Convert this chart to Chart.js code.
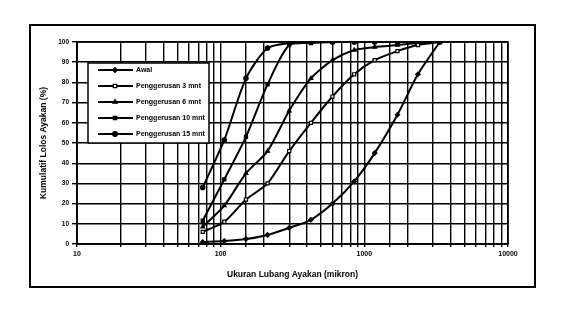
<!DOCTYPE html>
<html>
<head>
<meta charset="utf-8">
<script src="https://cdn.jsdelivr.net/npm/chart.js@4.4.1/dist/chart.umd.min.js"></script>
<style>
  html, body { margin: 0; padding: 0; background: #fff; }
  #wrap { position: relative; width: 563px; height: 309px; }
</style>
</head>
<body>
<div id="wrap"><canvas id="c" width="563" height="309"></canvas></div>
<script>
// ---- data ----
const sieveSizes = [75, 106, 150, 212, 300, 425, 600, 850, 1180, 1700, 2360, 3350];
const seriesLabels = ['Awal', 'Penggerusan 3 mnt', 'Penggerusan 6 mnt', 'Penggerusan 10 mnt', 'Penggerusan 15 mnt'];
const awal  = [1, 1.5, 2.5, 4.5, 8, 12, 20, 31, 45, 64, 84, 100];
const mnt3  = [6, 11, 22, 30, 46, 60, 73, 84, 91, 95.5, 98.5, 100];
const mnt6  = [8.5, 19, 35, 46, 66, 82, 91, 96, 97.5, 98.5, 99.5, 100];
const mnt10 = [11.5, 32, 53, 79, 98.5, 99.5, 100, 100, 100, 100, 100, 100];
const mnt15 = [28, 51.5, 82, 97, 99.5, 100, 100, 100, 100, 100, 100, 100];
const xTickLabels = [10, 100, 1000, 10000];
const xTitle = 'Ukuran Lubang Ayakan (mikron)';
const yTitle = 'Kumulatif Lolos Ayakan (%)';

const seriesValues = [awal, mnt3, mnt6, mnt10, mnt15];
const markerStyles = ['rectRot', 'rect', 'triangle', 'rect', 'circle'];
const markerFills = ['#000', '#fff', '#000', '#000', '#000'];

const FONT = '"Liberation Sans", Arial, sans-serif';

const datasets = seriesValues.map((vals, i) => ({
  label: seriesLabels[i],
  data: sieveSizes.map((s, j) => ({ x: s, y: vals[j] })),
  borderColor: '#000',
  borderWidth: 2,
  backgroundColor: markerFills[i],
  pointStyle: markerStyles[i],
  pointRadius: 2.2,
  pointBorderColor: '#000',
  pointBorderWidth: 1.2,
  pointBackgroundColor: markerFills[i],
  tension: 0.25,
  fill: false
}));

const framePlugin = {
  id: 'frame',
  beforeDraw(chart) {
    const ctx = chart.ctx;
    ctx.save();
    ctx.fillStyle = '#fff';
    ctx.fillRect(0, 0, chart.width, chart.height);
    ctx.restore();
  },
  afterDraw(chart) {
    const ctx = chart.ctx;
    const a = chart.chartArea;
    ctx.save();
    // outer frame
    ctx.strokeStyle = '#000';
    ctx.lineWidth = 2;
    ctx.strokeRect(30, 25, 505, 262);
    // plot border
    ctx.lineWidth = 1.6;
    ctx.strokeRect(a.left, a.top, a.right - a.left, a.bottom - a.top);

    // legend box inside chart area
    const bx = a.left + 11, by = a.top + 21, bw = 121, bh = 80;
    ctx.fillStyle = '#fff';
    ctx.fillRect(bx, by, bw, bh);
    ctx.lineWidth = 1.5;
    ctx.strokeRect(bx, by, bw, bh);
    ctx.font = 'bold 7px ' + FONT;
    ctx.textBaseline = 'middle';
    ctx.textAlign = 'left';
    chart.data.datasets.forEach((ds, i) => {
      const yy = by + 7 + i * 16;
      ctx.strokeStyle = '#000';
      ctx.lineWidth = 2;
      ctx.beginPath();
      ctx.moveTo(bx + 10, yy);
      ctx.lineTo(bx + 45, yy);
      ctx.stroke();
      ctx.fillStyle = ds.pointBackgroundColor;
      ctx.strokeStyle = '#000';
      ctx.lineWidth = 1.2;
      Chart.helpers.drawPoint(ctx, {
        pointStyle: ds.pointStyle, radius: 2.4, borderWidth: 1.2
      }, bx + 27, yy);
      ctx.fillStyle = '#000';
      ctx.fillText(ds.label, bx + 48, yy + 0.5);
    });
    ctx.restore();
  }
};

new Chart(document.getElementById('c'), {
  type: 'line',
  data: { datasets },
  options: {
    responsive: false,
    animation: false,
    devicePixelRatio: 1,
    layout: { padding: { left: 34, right: 55, top: 42, bottom: 23 } },
    plugins: {
      legend: { display: false },
      tooltip: { enabled: false }
    },
    scales: {
      x: {
        type: 'logarithmic',
        min: 10,
        max: 10000,
        afterFit(scale) { scale.height = 42; },
        grid: { color: '#000', lineWidth: 1.4, tickLength: 3, drawTicks: true },
        border: { display: true, color: '#000', width: 1.6 },
        ticks: {
          autoSkip: false,
          maxRotation: 0,
          color: '#000',
          padding: 3,
          font: { family: FONT, size: 7, weight: 'bold' },
          callback(v) { return xTickLabels.includes(v) ? String(v) : ''; }
        },
        title: {
          display: true,
          text: xTitle,
          color: '#000',
          font: { family: FONT, size: 8.5, weight: 'bold' },
          padding: { top: 0, bottom: 6 }
        }
      },
      y: {
        min: 0,
        max: 100,
        afterFit(scale) { scale.width = 43; },
        grid: { color: '#000', lineWidth: 1.4, tickLength: 5 },
        border: { display: true, color: '#000', width: 1.6 },
        ticks: {
          stepSize: 10,
          color: '#000',
          padding: 3,
          font: { family: FONT, size: 6.5, weight: 'bold' }
        },
        title: {
          display: true,
          text: yTitle,
          color: '#000',
          font: { family: FONT, size: 8.5, weight: 'bold' },
          padding: { top: 5, bottom: 0 }
        }
      }
    }
  },
  plugins: [framePlugin]
});
</script>
</body>
</html>
